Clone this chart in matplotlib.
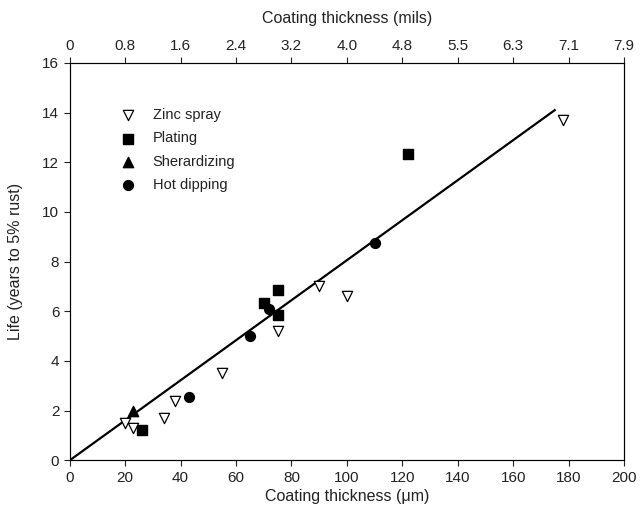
import numpy as np
import matplotlib
matplotlib.use("Agg")
from matplotlib import pyplot as plt

plt.rcParams['font.family'] = ['Liberation Sans', 'DejaVu Sans']

# data (thickness in um, life in years)
zinc_x = [20, 23, 34, 38, 55, 75, 90, 100, 178]
zinc_y = [1.5, 1.3, 1.7, 2.4, 3.5, 5.2, 7.0, 6.6, 13.7]
plating_x = [26, 70, 75, 75, 122]
plating_y = [1.2, 6.35, 6.85, 5.85, 12.35]
sherard_x = [23]
sherard_y = [2.0]
hotdip_x = [43, 65, 72, 110]
hotdip_y = [2.55, 5.0, 6.1, 8.75]
fit_x = [0, 175]
fit_y = [0, 14.1]

bottom_ticks = [0, 20, 40, 60, 80, 100, 120, 140, 160, 180, 200]
top_labels = ["0", "0.8", "1.6", "2.4", "3.2", "4.0", "4.8", "5.5", "6.3", "7.1", "7.9"]

fig = plt.figure(figsize=(6.4, 5.12), dpi=100)
ax = fig.add_axes([0.109, 0.101, 0.866, 0.776])

ax.plot(fit_x, fit_y, color='black', lw=1.6, zorder=2)
ax.scatter(zinc_x, zinc_y, marker='v', s=55, facecolor='white', edgecolor='black', lw=0.9, zorder=3, label='Zinc spray')
ax.scatter(plating_x, plating_y, marker='s', s=50, color='black', zorder=3, label='Plating')
ax.scatter(sherard_x, sherard_y, marker='^', s=55, color='black', zorder=3, label='Sherardizing')
ax.scatter(hotdip_x, hotdip_y, marker='o', s=50, color='black', zorder=3, label='Hot dipping')

tc = '#222222'
ax.set_xlim(0, 200)
ax.set_ylim(0, 16)
ax.set_xticks(bottom_ticks)
ax.set_yticks(range(0, 17, 2))
ax.tick_params(direction='out', length=4, labelsize=11, colors=tc)
ax.tick_params(axis='y', right=False)
for s in ax.spines.values():
    s.set_color('#333333')
ax.set_xlabel(u'Coating thickness (\u03bcm)', fontsize=11.5, color=tc, labelpad=3)
ax.set_ylabel('Life (years to 5% rust)', fontsize=11.5, color=tc, labelpad=14)

top = ax.twiny()
top.set_xlim(0, 200)
top.set_xticks(bottom_ticks)
top.set_xticklabels(top_labels)
top.tick_params(direction='out', length=4, labelsize=11, colors=tc)
top.set_xlabel('Coating thickness (mils)', fontsize=11.5, color=tc, labelpad=11)

ax.legend(loc='upper left', bbox_to_anchor=(0.055, 0.92), frameon=False, fontsize=10.5,
          handletextpad=0.7, labelspacing=0.65, scatterpoints=1, labelcolor=tc)

fig.savefig('out.png', dpi=100)
